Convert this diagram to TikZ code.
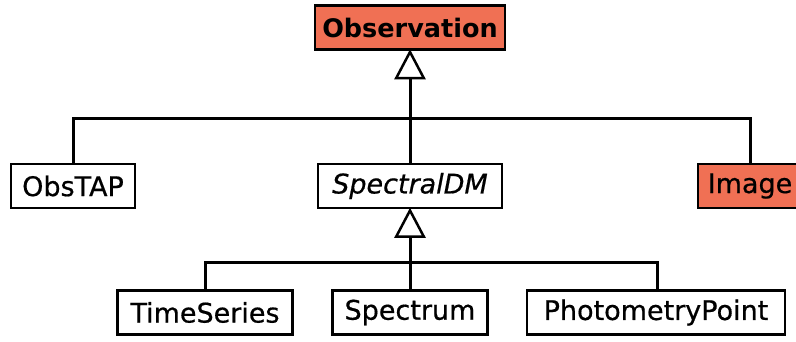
\documentclass[tikz,border=0pt]{standalone}
\usepackage{fontspec}
\setmainfont{DejaVu Sans}[FakeBold=0.6]
\newfontfamily\obsbold{DejaVu Sans Bold}
\usetikzlibrary{arrows.meta}
\definecolor{coral}{RGB}{240,112,84}
\begin{document}
\begin{tikzpicture}[x=1pt,y=-1pt,
  cls/.style={draw=black, line width=2.5pt, fill=white, inner sep=0pt,
    font=\fontsize{27}{32}\selectfont, minimum height=44pt},
  hl/.style={fill=coral},
  conn/.style={line width=3pt},
  gen/.style={conn, shorten >=-1.5pt, -{Triangle[open, length=30pt, width=31pt, line width=2.5pt]}}]
\useasboundingbox (0,0) rectangle (796,341);
\node[cls, hl, minimum width=190pt, font=\fontsize{25.5}{30}\selectfont\obsbold] (obs) at (410,27.5) {Observation};
\node[cls, minimum width=124pt] (obstap) at (73,186) {ObsTAP};
\node[cls, minimum width=184pt] (sdm) at (410,186) {\itshape SpectralDM};
\node[cls, hl, minimum width=104pt] (img) at (750,186) {Image};
\node[cls, minimum width=175pt] (ts) at (205,312.5) {TimeSeries};
\node[cls, minimum width=155pt] (sp) at (410,312.5) {Spectrum};
\node[cls, minimum width=258pt] (pp) at (656,312.5) {PhotometryPoint};
\coordinate (bus1) at (410,118);
\coordinate (bus2) at (410,262);
\draw[conn] (obstap.north) |- (bus1) -| (img.north);
\draw[gen] (sdm.north) -- (obs.south);
\draw[conn] (ts.north) |- (bus2) -| ([xshift=1pt]pp.north);
\draw[gen] (sp.north) -- (sdm.south);
\end{tikzpicture}
\end{document}
